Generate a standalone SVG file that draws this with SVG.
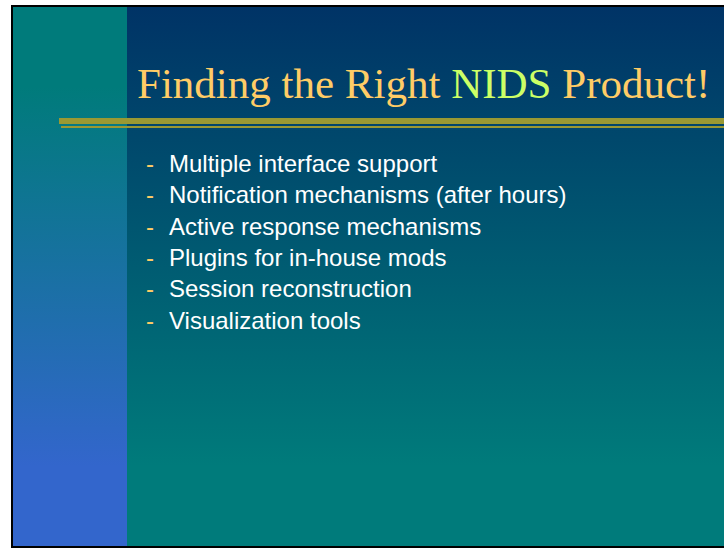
<svg xmlns="http://www.w3.org/2000/svg" width="724" height="548" viewBox="0 0 724 548">
  <defs>
    <linearGradient id="mainGrad" x1="0" y1="0" x2="0" y2="1">
      <stop offset="0" stop-color="#003366"/>
      <stop offset="0.85" stop-color="#007b7b"/>
      <stop offset="1" stop-color="#007b7b"/>
    </linearGradient>
    <linearGradient id="barGrad" x1="0" y1="0" x2="0" y2="1">
      <stop offset="0" stop-color="#007b7b"/>
      <stop offset="0.15" stop-color="#007b7b"/>
      <stop offset="0.85" stop-color="#3366cc"/>
      <stop offset="1" stop-color="#3366cc"/>
    </linearGradient>
  </defs>
  <style>
    .title { font-family: "Liberation Serif", "DejaVu Serif", serif; font-size: 43px; fill: #ffcc66; }
    .hl { fill: #ccff66; }
    .dash { font-family: "Liberation Sans", Arial, sans-serif; font-size: 24px; fill: #ffcc66; }
    .item { font-family: "Liberation Sans", Arial, sans-serif; font-size: 24px; fill: #ffffff; }
  </style>
  <rect x="0" y="0" width="724" height="548" fill="#ffffff"/>
  <rect x="12" y="6" width="720" height="541" fill="url(#mainGrad)"/>
  <rect x="12" y="6" width="115" height="541" fill="url(#barGrad)"/>
  <rect x="12" y="6" width="720" height="541" fill="none" stroke="#000000" stroke-width="2"/>
  <text class="title" x="137" y="98"><tspan>Finding the Right </tspan><tspan class="hl">NIDS</tspan><tspan> Product!</tspan></text>
  <rect x="59" y="118" width="665" height="6" fill="#999933"/>
  <rect x="61" y="126" width="663" height="2" fill="#999933"/>
  <g>
    <text class="dash" x="146" y="172">-</text>
    <text class="item" x="169" y="172">Multiple interface support</text>
    <text class="dash" x="146" y="203">-</text>
    <text class="item" x="169" y="203">Notification mechanisms (after hours)</text>
    <text class="dash" x="146" y="234.5">-</text>
    <text class="item" x="169" y="234.5">Active response mechanisms</text>
    <text class="dash" x="146" y="266">-</text>
    <text class="item" x="169" y="266">Plugins for in-house mods</text>
    <text class="dash" x="146" y="297">-</text>
    <text class="item" x="169" y="297">Session reconstruction</text>
    <text class="dash" x="146" y="328.5">-</text>
    <text class="item" x="169" y="328.5">Visualization tools</text>
  </g>
</svg>
